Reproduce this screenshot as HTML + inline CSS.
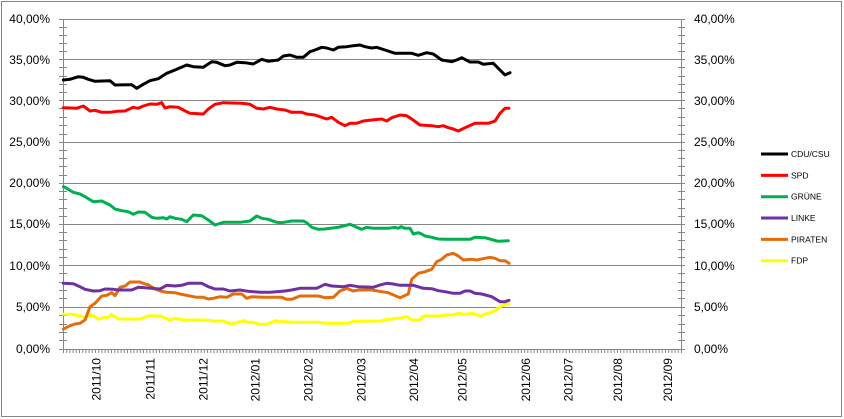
<!DOCTYPE html>
<html>
<head>
<meta charset="utf-8">
<style>
html,body{margin:0;padding:0;background:#fff;}
svg{display:block;}
text{font-family:"Liberation Sans",Arial,sans-serif;fill:#000;}
</style>
</head>
<body>
<svg width="844" height="419" viewBox="0 0 844 419" xmlns="http://www.w3.org/2000/svg">
<rect x="0" y="0" width="844" height="419" fill="#fff"/>
<rect x="1.5" y="1.5" width="840" height="415" fill="none" stroke="#868686" stroke-width="1"/>

<!-- gridlines -->
<g stroke="#868686" stroke-width="1" shape-rendering="crispEdges">
<line x1="59" y1="19.5" x2="685" y2="19.5"/>
<line x1="59" y1="59.5" x2="685" y2="59.5"/>
<line x1="59" y1="100.5" x2="685" y2="100.5"/>
<line x1="59" y1="142.5" x2="685" y2="142.5"/>
<line x1="59" y1="183.5" x2="685" y2="183.5"/>
<line x1="59" y1="224.5" x2="685" y2="224.5"/>
<line x1="59" y1="265.5" x2="685" y2="265.5"/>
<line x1="59" y1="307.5" x2="685" y2="307.5"/>
<line x1="59" y1="349.5" x2="685" y2="349.5"/>
<!-- axes -->
<line x1="63.5" y1="19" x2="63.5" y2="350"/>
<line x1="681.5" y1="19" x2="681.5" y2="350"/>
</g>

<!-- minor y ticks -->
<g id="yt" stroke="#868686" stroke-width="1" shape-rendering="crispEdges">
<path d="M59 27.5h8M59 35.5h8M59 43.5h8M59 51.5h8
M59 67.5h8M59 76.5h8M59 84.5h8M59 92.5h8
M59 108.5h8M59 117.5h8M59 125.5h8M59 134.5h8
M59 150.5h8M59 158.5h8M59 166.5h8M59 175.5h8
M59 191.5h8M59 199.5h8M59 208.5h8M59 216.5h8
M59 232.5h8M59 240.5h8M59 249.5h8M59 257.5h8
M59 273.5h8M59 282.5h8M59 290.5h8M59 298.5h8
M59 315.5h8M59 324.5h8M59 332.5h8M59 340.5h8"/>
<path transform="translate(619,0)" d="M59 27.5h7M59 35.5h7M59 43.5h7M59 51.5h7
M59 67.5h7M59 76.5h7M59 84.5h7M59 92.5h7
M59 108.5h7M59 117.5h7M59 125.5h7M59 134.5h7
M59 150.5h7M59 158.5h7M59 166.5h7M59 175.5h7
M59 191.5h7M59 199.5h7M59 208.5h7M59 216.5h7
M59 232.5h7M59 240.5h7M59 249.5h7M59 257.5h7
M59 273.5h7M59 282.5h7M59 290.5h7M59 298.5h7
M59 315.5h7M59 324.5h7M59 332.5h7M59 340.5h7"/>
</g>

<!-- x ticks -->
<g stroke="#868686" stroke-width="1">
<path id="xt" d=""/>
</g>
<script>
(function(){
var d="";for(var i=0;i<=193;i++){var x=63.5+i*618/193;d+="M"+x.toFixed(2)+" 349V353";}
document.getElementById("xt").setAttribute("d",d);
})();
</script>

<!-- y labels left -->
<g font-size="12" text-anchor="end">
<text x="50" y="23">40,00%</text>
<text x="50" y="64">35,00%</text>
<text x="50" y="105">30,00%</text>
<text x="50" y="146">25,00%</text>
<text x="50" y="187">20,00%</text>
<text x="50" y="228">15,00%</text>
<text x="50" y="270">10,00%</text>
<text x="50" y="311">5,00%</text>
<text x="50" y="353">0,00%</text>
</g>
<g font-size="12" text-anchor="start">
<text x="694" y="23">40,00%</text>
<text x="694" y="64">35,00%</text>
<text x="694" y="105">30,00%</text>
<text x="694" y="146">25,00%</text>
<text x="694" y="187">20,00%</text>
<text x="694" y="228">15,00%</text>
<text x="694" y="270">10,00%</text>
<text x="694" y="311">5,00%</text>
<text x="694" y="353">0,00%</text>
</g>

<!-- x labels -->
<g font-size="12" text-anchor="end">
<text transform="translate(100.7,358) rotate(-90)">2011/10</text>
<text transform="translate(154.7,358) rotate(-90)">2011/11</text>
<text transform="translate(207.7,358) rotate(-90)">2011/12</text>
<text transform="translate(259.5,358) rotate(-90)">2012/01</text>
<text transform="translate(312.7,358) rotate(-90)">2012/02</text>
<text transform="translate(365.7,358) rotate(-90)">2012/03</text>
<text transform="translate(418.2,358) rotate(-90)">2012/04</text>
<text transform="translate(466.7,358) rotate(-90)">2012/05</text>
<text transform="translate(530.2,358) rotate(-90)">2012/06</text>
<text transform="translate(572.5,358) rotate(-90)">2012/07</text>
<text transform="translate(622.2,358) rotate(-90)">2012/08</text>
<text transform="translate(672.2,358) rotate(-90)">2012/09</text>
</g>

<!-- series -->
<g fill="none" stroke-width="3" stroke-linejoin="round" stroke-linecap="round">
<polyline stroke="#ffff00" points="63.3,314.3 71.7,314.3 80,316 85,317.3 91.7,315 95,316.7 98.3,319.3 105,317.3 108.3,317.3 111.7,314.3 118.3,319 140,319 148.3,316 160,316 170,320 175,318.3 183.3,320 205,320 213.3,321 223.3,321 228.3,323.3 235,323.3 243.3,320.7 248.3,322.3 253.3,322.3 258.3,324.3 266.7,324.3 275,320.7 281.7,321.7 285,321.7 291.7,322.3 318.3,322.3 325,323.3 348.3,323.3 353.3,321.3 381.7,321 386.7,319.3 391.7,319.3 395,318.3 400,318.3 405,316.7 408.3,317.3 411.7,320 420,320 423.3,316 440,316 445,315 453.3,315 458.3,313.3 465,314.3 471.7,313.3 476.7,314.3 480,316.7 485,314 490,312.7 495,310.7 500,306.7 505,304.3 509,304"/>
<polyline stroke="#e46c0a" points="63.3,329 65,328.3 70,325.7 75,324 80,323.3 85,320 90,306.7 95,303.3 101.7,296 106.7,295.3 111.7,292.7 115,295.7 120,287.3 125,286 130,282 140,282 145,284 148.3,284.7 155,289 161.7,291.3 166.7,292.3 175,292.7 180,294 188.3,295.7 196.7,297.3 203.3,297.3 208.3,299 213.3,298.3 220,296.7 226.7,297.3 233.3,294 241.7,294 246.7,298.3 251.7,296.7 263.3,297.3 281.7,297.3 286.7,299.3 291.7,299.3 300,296 318.3,296 325,297.7 333.3,297.3 340,291 346.7,288.3 353.3,291 358.3,290 371.7,290 381.7,291.7 388.3,292.7 400,297.7 408.3,294 411.7,279.3 418.3,273.3 425,271.7 431.7,269.3 436.7,261.7 441.7,259.3 446.7,255 453.3,253.3 458.3,256 463.3,260 471.7,259.3 476.7,260 485,258.3 490,257.3 495,258.3 500,260.7 505,260.7 509,263.3"/>
<polyline stroke="#7030a0" points="63.3,283.3 73.3,283.7 80,286.7 85,289.3 93.3,291 100,290.7 105,289 113.3,289.3 118.3,290 131.7,290 138.3,287.3 148.3,288 160,289 166.7,285.3 175,286 181.7,285.3 188.3,283.3 201.7,283.3 208.3,286.7 215,289 223.3,289 230,291 240,290 248.3,291.3 260,292.3 270,292.3 276.7,291.7 285,291 291.7,290 300,288.3 316.7,288.3 325,284.3 331.7,286 343.3,286.7 350,285.3 358.3,286.7 373.3,287.3 380,285 386.7,283.3 393.3,284 400,285.3 413.3,285.3 423.3,288.3 431.7,288.7 438.3,290.7 445,291.7 453.3,293.3 460,293.3 465,291 470,291 475,293.3 481.7,294 491.7,296.7 500,301.7 505,301.7 509,300.3"/>
<polyline stroke="#00b050" points="63.3,186.7 65,187.3 73.3,192.3 80,194 85,196.7 93.3,201.7 101.7,201 110,205 115,209 121.7,210.7 128.3,211.7 133.3,214.3 138.3,212 145,212.3 151.7,217.3 156.7,218.3 163.3,217.7 166.7,219 170,216.7 175,218.3 181.7,219.3 186.7,221.7 193.3,215 201.7,215.7 208.3,220 215,225 223.3,222.3 240,222.3 250,221 256.7,216 261.7,218.3 268.3,219.3 276.7,222.3 281.7,222.7 291.7,221 303.3,221 306.7,222.7 311.7,227.3 318.3,229.3 325,229 330,228.3 338.3,227.3 343.3,226 350,224.3 356.7,227.3 361.7,229.3 366.7,227.3 373.3,228.3 388.3,228.3 395,227.3 398.3,228.3 401,226.7 405,228.3 410,228.3 413.3,234 418.3,232.7 421.7,234 425,236 431.7,237.3 438.3,239 445,239.3 470,239.3 475,237.3 485,237.7 493.3,240 498.3,241.3 508.3,240.7"/>
<polyline stroke="#ff0000" points="63.3,107.7 76.7,108.3 83.3,106 90,111 95,110.3 101.7,112.3 110,112.3 116.7,111.3 125,111 133.3,107.3 138.3,108.3 143.3,106 150,104 156.7,104.3 161.7,102.7 165,108 170,106.7 178.3,107.3 183.3,110 190,113.3 203.3,114 208.3,109 215,104.3 223.3,102.7 241.7,103.3 250,104.3 256.7,108.3 263.3,109 270,107.3 276.7,109 285,110 291.7,112.3 301.7,112.3 306.7,114 315,115 321.7,117.3 326.7,119 331.7,117.3 338.3,122.3 345,125.7 350,123.3 356.7,123.3 363.3,121 371.7,120 381.7,119 386.7,121 391.7,117.7 400,115 406.7,115.7 411.7,119 420,125 431.7,125.7 438.3,126.7 443.3,125.7 448.3,127.7 453.3,129 458.3,131 465,127.7 475,123.3 488.3,123.3 495,121 500,113.3 505,108.3 509,108.3"/>
<polyline stroke="#000000" points="63.3,80 70,79.3 78.3,76.7 83.3,77.3 88.3,79.3 95,81.3 110,80.7 115,85 131.7,84.7 136.7,88.3 143.3,84.3 150,80.7 158.3,78.7 166.7,73.3 175,70 186.7,65 193.3,66.7 203.3,67.3 211.7,61.7 216.7,62.3 225,65.7 230,65 236.7,62.3 245,62.7 253.3,64 261.7,59.3 268.3,61.3 278.3,60 283.3,56 290,55 296.7,57.3 303.3,57.3 310,51.7 315,50 321.7,47.3 326.7,48 333.3,50 338.3,47.3 346.7,46.7 353.3,45.7 360,45 365,46.7 371.7,48 376.7,47.3 385,50 395,53.3 411.7,53.3 418.3,55.3 426.7,52.7 433.3,54 441.7,60 451.7,61.7 456.7,60 461.7,57.7 470,62 478.3,62 483.3,64.3 493.3,63.3 498.3,68.3 505,75 510,72.7"/>
</g>

<!-- legend -->
<g stroke-width="3" fill="none">
<line x1="761" y1="154" x2="788" y2="154" stroke="#000000"/>
<line x1="761" y1="175.4" x2="788" y2="175.4" stroke="#ff0000"/>
<line x1="761" y1="196.7" x2="788" y2="196.7" stroke="#00b050"/>
<line x1="761" y1="218" x2="788" y2="218" stroke="#7030a0"/>
<line x1="761" y1="239.4" x2="788" y2="239.4" stroke="#e46c0a"/>
<line x1="761" y1="260.7" x2="788" y2="260.7" stroke="#ffff00"/>
</g>
<g font-size="8.5">
<text x="791" y="157">CDU/CSU</text>
<text x="791" y="178.4">SPD</text>
<text x="791" y="199.7">GRÜNE</text>
<text x="791" y="221">LINKE</text>
<text x="791" y="242.4">PIRATEN</text>
<text x="791" y="263.7">FDP</text>
</g>
</svg>
</body>
</html>
